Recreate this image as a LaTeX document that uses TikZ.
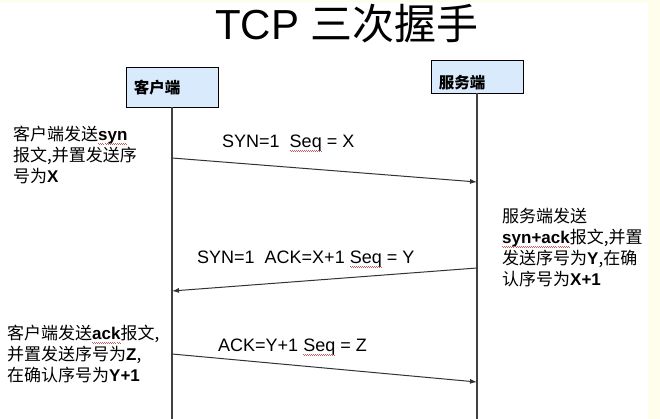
\documentclass[tikz,border=0pt]{standalone}
\usepackage{fontspec}
\setmainfont{Liberation Sans}
\newfontfamily\cjk{Noto Sans CJK SC}
\usepackage{xcolor}
\definecolor{boxBack}  {HTML}{D9EAFC}
\definecolor{pageEdge} {HTML}{FFFDEB}
\definecolor{waveRed}  {HTML}{C86060}
\usetikzlibrary{arrows.meta, positioning, calc}
\newcommand{\zh}[1]{{\cjk #1}}
\newsavebox{\spellbox}
\newcommand{\spell}[1]{\sbox{\spellbox}{#1}\rlap{\textcolor{waveRed}{\hbox to \wd\spellbox{\xleaders\hbox{\rule[-3.2pt]{1pt}{0.7pt}\rule[-4.2pt]{1pt}{0.7pt}}\hfill}}}\usebox{\spellbox}}
\tikzset{
    lifebox/.style={rectangle, draw, fill=boxBack, minimum width=92pt,
                    inner sep=0pt, line width=0.8pt},
    boxname/.style={anchor=west, inner sep=0pt,
                    font=\cjk\bfseries\fontsize{15.5}{18}\selectfont},
    lifeline/.style={-, line width=1.2pt, black!75},
    signal/.style={-{Latex[length=7pt,width=5pt]}, line width=1pt, black!80},
    msg/.style={anchor=west, inner sep=0pt, font=\fontsize{18}{21}\selectfont},
    note/.style={anchor=north west, align=left, inner sep=0pt,
                 font=\fontsize{17}{21}\selectfont},
}

\begin{document}
\begin{tikzpicture}[x=1pt, y=-1pt]
    \fill[white] (0,0) rectangle (660,419);
    \fill[pageEdge] (648,0) rectangle (660,419);
    \fill[pageEdge] (0,0) rectangle (660,2);
    \useasboundingbox (0,0) rectangle (660,419);

    \node[anchor=base west, inner sep=0pt, font=\fontsize{42}{46}\selectfont]
        (title) at (215,40) {TCP \zh{三次握手}};

    % the two parties
    \node[lifebox, minimum height=40pt] (client) at (172,87) {};
    \node[lifebox, minimum height=33pt] (server) at (477,76.5) {};
    \node[boxname] (clientname) at ([xshift=8pt,yshift=-1pt]client.west) {客户端};
    \node[boxname] (servername) at ([xshift=8pt,yshift=-6pt]server.west) {服务端};

    \coordinate (cEnd) at (172,419);
    \coordinate (sEnd) at (477,419);
    \draw[lifeline] (client) -- (cEnd);
    \draw[lifeline] (server) -- (sEnd);

    % handshake messages
    \coordinate (c1) at (172,158);
    \coordinate (s1) at (477,182);
    \coordinate (s2) at (477,268);
    \coordinate (c2) at (172,291);
    \coordinate (c3) at (172,354);
    \coordinate (s3) at (477,382);
    \draw[signal] (c1) -- (s1);
    \draw[signal] (s2) -- (c2);
    \draw[signal] (c3) -- (s3);

    \node[msg] (m1) at (222,143) {SYN=1\ \ \spell{Seq} = X};
    \node[msg] (m2) at (197,259) {SYN=1\ \ ACK=X+1 \spell{Seq} = Y};
    \node[msg] (m3) at (218,347) {ACK=Y+1 \spell{Seq} = Z};

    % notes beside the lifelines
    \node[note] (n1) at (13,126)
        {\zh{客户端发送}\textbf{\spell{syn}}\\
         \zh{报文,并置发送序}\\
         \zh{号为}\textbf{X}};
    \node[note] (n2) at (502,208)
        {\zh{服务端发送}\\
         \textbf{\spell{syn+ack}}\zh{报文,并置}\\
         \zh{发送序号为}\textbf{Y}\zh{,在确}\\
         \zh{认序号为}\textbf{X+1}};
    \node[note] (n3) at (7,325)
        {\zh{客户端发送}\textbf{\spell{ack}}\zh{报文,}\\
         \zh{并置发送序号为}\textbf{Z}\zh{,}\\
         \zh{在确认序号为}\textbf{Y+1}};
\end{tikzpicture}
\end{document}
